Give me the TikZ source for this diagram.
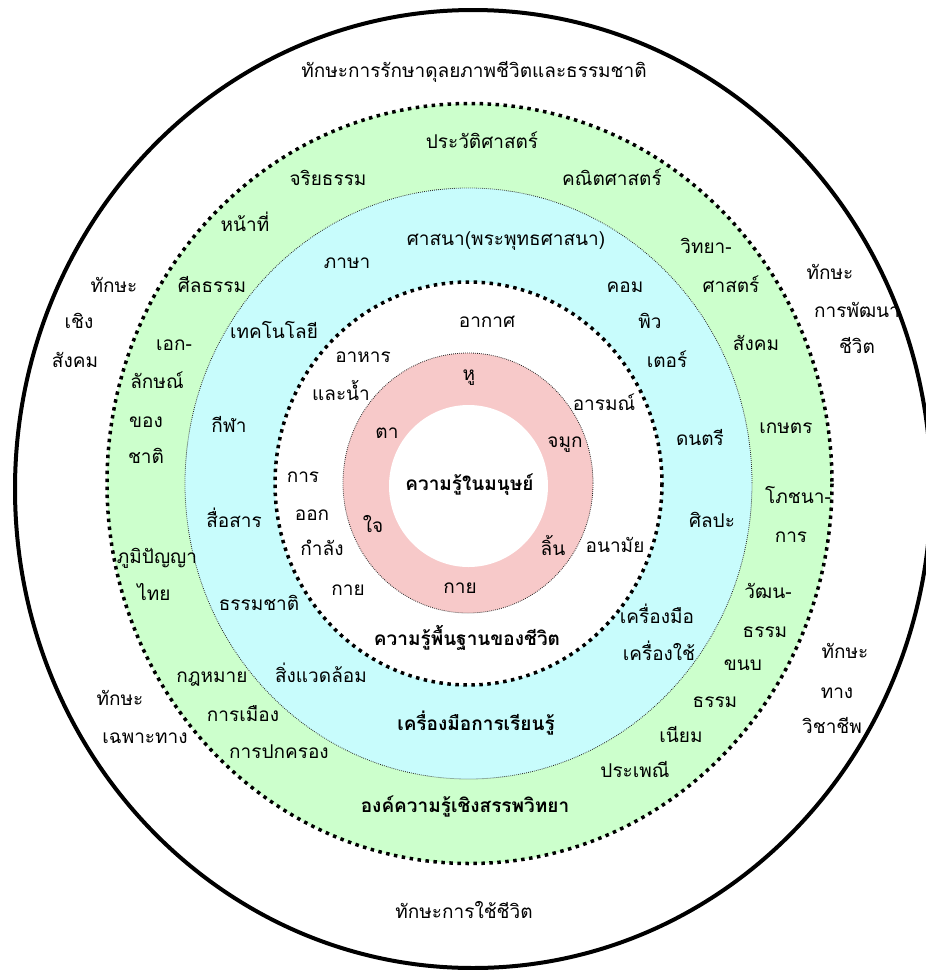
\documentclass[tikz,border=0pt]{standalone}
\usepackage{fontspec}
\newfontfamily\thai[Script=Thai]{Loma}
\definecolor{ringgreen}{HTML}{CCFFCC}
\definecolor{ringblue}{HTML}{C8FCFC}
\definecolor{ringpink}{HTML}{F7C9C9}
\begin{document}
\begin{tikzpicture}[x=1pt,y=-1pt,
  lab/.style={font=\thai\fontsize{19}{22}\selectfont, inner sep=0pt, anchor=base, yshift=-5pt},
  labb/.style={font=\thai\bfseries\fontsize{19}{22}\selectfont, inner sep=0pt, anchor=base, yshift=-5pt},
  thickdot/.style={line width=3.5pt, dash pattern=on 3.5pt off 4.5pt},
  thindot/.style={line width=0.8pt, dash pattern=on 0.8pt off 1.2pt, draw=black!85}]
\useasboundingbox (0,0) rectangle (926,970);
\clip (0,0) rectangle (926,970);
\fill[white] (0,0) rectangle (926,970);
% rings
\draw[line width=4pt, fill=white] (473,489) ellipse [x radius=458, y radius=479];
\fill[ringgreen] (469.5,483.5) ellipse [x radius=362.5, y radius=380];
\fill[ringblue] (468.5,483.5) ellipse [x radius=283.5, y radius=295.5];
\fill[white] (468.5,483.5) ellipse [x radius=193.5, y radius=201.5];
\fill[ringpink] (468,483) ellipse [x radius=125, y radius=130];
\fill[white] (468.5,486) ellipse [x radius=79.5, y radius=81];
\draw[thickdot] (469.5,483.5) ellipse [x radius=362.5, y radius=380];
\draw[thindot] (468.5,483.5) ellipse [x radius=283.5, y radius=295.5];
\draw[thickdot] (468.5,483.5) ellipse [x radius=193.5, y radius=201.5];
\draw[thindot] (468,483) ellipse [x radius=125, y radius=130];
% outer ring labels
\node[lab] (o1) at (474,72) {ทักษะการรักษาดุลยภาพชีวิตและธรรมชาติ};
\node[lab] (o2) at (114,287) {ทักษะ};
\node[lab] (o3) at (79,323) {เชิง};
\node[lab] (o4) at (75,362) {สังคม};
\node[lab] (o5) at (830,274) {ทักษะ};
\node[lab] (o6) at (857,312) {การพัฒนา};
\node[lab] (o7) at (857,348) {ชีวิต};
\node[lab] (o8) at (845,653) {ทักษะ};
\node[lab] (o9) at (837,693) {ทาง};
\node[lab] (o10) at (832,728) {วิชาชีพ};
\node[lab] (o11) at (120,700) {ทักษะ};
\node[lab] (o12) at (145,738) {เฉพาะทาง};
\node[lab] (o13) at (464,913) {ทักษะการใช้ชีวิต};
% green ring labels
\node[lab] (g1) at (482,143) {ประวัติศาสตร์};
\node[lab] (g2) at (328,180) {จริยธรรม};
\node[lab] (g3) at (612,180) {คณิตศาสตร์};
\node[lab] (g4) at (245,226) {หน้าที่};
\node[lab] (g5) at (706,248) {วิทยา-};
\node[lab] (g6) at (731,287) {ศาสตร์};
\node[lab] (g7) at (212,287) {ศีลธรรม};
\node[lab] (g8) at (174,345) {เอก-};
\node[lab] (g9) at (157,383) {ลักษณ์};
\node[lab] (g10) at (146,422) {ของ};
\node[lab] (g11) at (146,458) {ชาติ};
\node[lab] (g12) at (157,558) {ภูมิปัญญา};
\node[lab] (g13) at (154,595) {ไทย};
\node[lab] (g14) at (756,345) {สังคม};
\node[lab] (g15) at (786,428) {เกษตร};
\node[lab] (g16) at (798,498) {โภชนา-};
\node[lab] (g17) at (791,537) {การ};
\node[lab] (g18) at (768,593) {วัฒน-};
\node[lab] (g19) at (765,632) {ธรรม};
\node[lab] (g20) at (743,665) {ขนบ};
\node[lab] (g21) at (715,702) {ธรรม};
\node[lab] (g22) at (681,737) {เนียม};
\node[lab] (g23) at (635,772) {ประเพณี};
\node[labb] (g24) at (465,807) {องค์ความรู้เชิงสรรพวิทยา};
\node[lab] (g25) at (212,677) {กฎหมาย};
\node[lab] (g26) at (243,716) {การเมือง};
\node[lab] (g27) at (279,753) {การปกครอง};
% blue ring labels
\node[lab] (b1) at (506,240) {ศาสนา(พระพุทธศาสนา)};
\node[lab] (b2) at (347,263) {ภาษา};
\node[lab] (b3) at (625,287) {คอม};
\node[lab] (b4) at (650,323) {พิว};
\node[lab] (b5) at (667,362) {เตอร์};
\node[lab] (b6) at (274,333) {เทคโนโลยี};
\node[lab] (b7) at (229,427) {กีฬา};
\node[lab] (b8) at (234,522) {สื่อสาร};
\node[lab] (b9) at (259,605) {ธรรมชาติ};
\node[lab] (b10) at (321,677) {สิ่งแวดล้อม};
\node[labb] (b11) at (476,725) {เครื่องมือการเรียนรู้};
\node[lab] (b12) at (700,440) {ดนตรี};
\node[lab] (b13) at (712,522) {ศิลปะ};
\node[lab] (b14) at (657,618) {เครื่องมือ};
\node[lab] (b15) at (659,655) {เครื่องใช้};
% white ring labels
\node[lab] (w1) at (487,322) {อากาศ};
\node[lab] (w2) at (363,357) {อาหาร};
\node[lab] (w3) at (341,395) {และน้ำ};
\node[lab] (w4) at (604,405) {อารมณ์};
\node[lab] (w5) at (303,477) {การ};
\node[lab] (w6) at (312,515) {ออก};
\node[lab] (w7) at (322,550) {กำลัง};
\node[lab] (w8) at (348,590) {กาย};
\node[lab] (w9) at (615,547) {อนามัย};
\node[labb] (w10) at (467,640) {ความรู้พื้นฐานของชีวิต};
% pink ring labels
\node[lab] (p1) at (469,375) {หู};
\node[lab] (p2) at (387,433) {ตา};
\node[lab] (p3) at (565,442) {จมูก};
\node[lab] (p4) at (373,527) {ใจ};
\node[lab] (p5) at (553,550) {ลิ้น};
\node[lab] (p6) at (460,588) {กาย};
% centre
\node[labb] (c1) at (469.5,485) {ความรู้ในมนุษย์};
\end{tikzpicture}
\end{document}
